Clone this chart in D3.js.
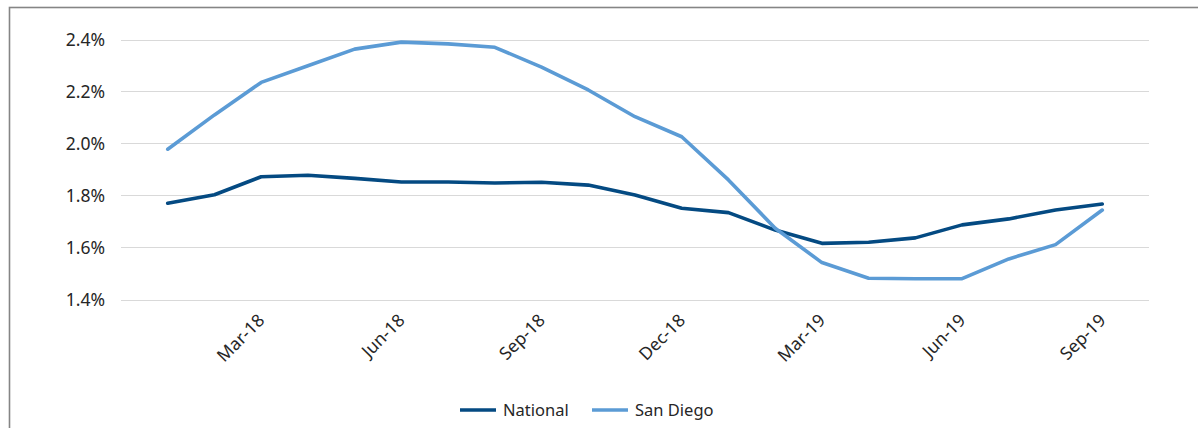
<!DOCTYPE html>
<html>
<head>
<meta charset="utf-8">
<script src="https://cdn.jsdelivr.net/npm/d3@7"></script>
<style>
  html, body { margin: 0; padding: 0; background: #fff; }
  svg { display: block; font-family: "Noto Sans", "Open Sans", sans-serif; }
</style>
</head>
<body>
<svg id="chart" width="1198" height="428"></svg>
<script>
// Monthly categories, Jan-18 through Sep-19
const months = ["Jan-18","Feb-18","Mar-18","Apr-18","May-18","Jun-18","Jul-18","Aug-18","Sep-18","Oct-18","Nov-18","Dec-18",
                "Jan-19","Feb-19","Mar-19","Apr-19","May-19","Jun-19","Jul-19","Aug-19","Sep-19"];

// Series values (percent)
const national = [1.770,1.803,1.872,1.878,1.866,1.852,1.852,1.848,1.851,1.840,1.802,1.751,
                  1.734,1.667,1.616,1.620,1.637,1.687,1.710,1.744,1.767];
const sanDiego = [1.978,2.110,2.235,2.299,2.363,2.390,2.383,2.370,2.294,2.206,2.103,2.026,
                  1.860,1.674,1.542,1.482,1.480,1.480,1.556,1.611,1.744];

// Axis labels
const xTickLabels = ["Mar-18","Jun-18","Sep-18","Dec-18","Mar-19","Jun-19","Sep-19"];
const yTicks = [1.4, 1.6, 1.8, 2.0, 2.2, 2.4];

const seriesNames = ["National", "San Diego"];
const seriesColors = ["#044a82", "#5b9bd5"];

const svg = d3.select("#chart");

// Outer frame (top and left edges visible)
svg.append("rect")
  .attr("x", 9.5).attr("y", 7.5)
  .attr("width", 1400).attr("height", 600)
  .attr("fill", "none")
  .attr("stroke", "#858585")
  .attr("stroke-width", 1.6);

const plot = { left: 121, right: 1149, top: 39.5, bottom: 299.5 };

const x = d3.scalePoint()
  .domain(months)
  .range([plot.left, plot.right])
  .padding(1);

const y = d3.scaleLinear()
  .domain([1.4, 2.4])
  .range([plot.bottom, plot.top]);

// Horizontal gridlines
svg.append("g")
  .selectAll("line")
  .data(yTicks)
  .join("line")
  .attr("x1", plot.left).attr("x2", plot.right)
  .attr("y1", d => Math.round(y(d)) + 0.5)
  .attr("y2", d => Math.round(y(d)) + 0.5)
  .attr("stroke", "#d9d9d9")
  .attr("stroke-width", 1);

// Y axis labels
const yAxis = d3.axisLeft(y)
  .tickValues(yTicks)
  .tickFormat(d => d.toFixed(1) + "%")
  .tickSize(0)
  .tickPadding(16);

svg.append("g")
  .attr("transform", `translate(${plot.left},0)`)
  .call(yAxis)
  .call(g => g.select(".domain").remove())
  .call(g => g.selectAll("text")
    .attr("font-size", 17.5)
    .attr("font-family", "Noto Sans, sans-serif")
    .attr("fill", "#262626"));

// X axis labels, rotated
const xAxis = d3.axisBottom(x)
  .tickValues(xTickLabels)
  .tickSize(0)
  .tickPadding(0);

svg.append("g")
  .attr("transform", `translate(0,${plot.bottom})`)
  .call(xAxis)
  .call(g => g.select(".domain").remove())
  .call(g => g.selectAll("text")
    .attr("font-size", 17.5)
    .attr("font-family", "Noto Sans, sans-serif")
    .attr("fill", "#262626")
    .attr("text-anchor", "end")
    .attr("dy", 0)
    .attr("y", 0)
    .attr("transform", "translate(4,22) rotate(-45)"));

// Lines
const line = d3.line()
  .x((d, i) => x(months[i]))
  .y(d => y(d));

[national, sanDiego].forEach((vals, k) => {
  svg.append("path")
    .datum(vals)
    .attr("fill", "none")
    .attr("stroke", seriesColors[k])
    .attr("stroke-width", 3.6)
    .attr("stroke-linejoin", "round")
    .attr("stroke-linecap", "round")
    .attr("d", line);
});

// Legend
const legendX = [460, 592];
const legend = svg.append("g");
seriesNames.forEach((name, k) => {
  legend.append("line")
    .attr("x1", legendX[k]).attr("x2", legendX[k] + 36)
    .attr("y1", 410).attr("y2", 410)
    .attr("stroke", seriesColors[k])
    .attr("stroke-width", 3.6);
  legend.append("text")
    .attr("x", legendX[k] + 43)
    .attr("y", 410)
    .attr("dy", "0.35em")
    .attr("font-size", 16.5)
    .attr("fill", "#262626")
    .text(name);
});
</script>
</body>
</html>
